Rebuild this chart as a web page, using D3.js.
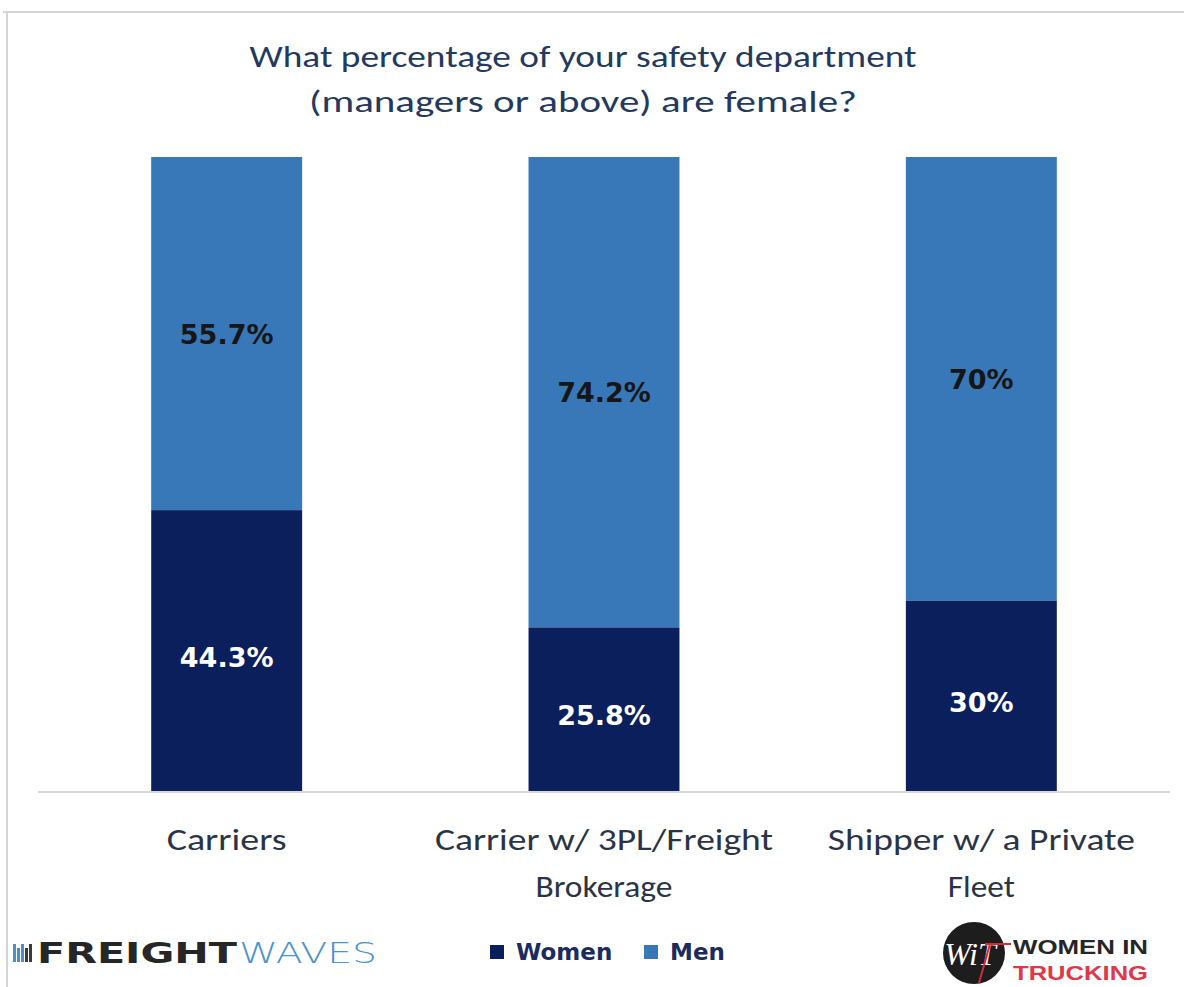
<!DOCTYPE html>
<html>
<head>
<meta charset="utf-8">
<script src="https://cdn.jsdelivr.net/npm/d3@7"></script>
<style>
html,body{margin:0;padding:0;background:#fff;}
svg{display:block;}
</style>
</head>
<body>
<script>
const categories = [["Carriers"], ["Carrier w/ 3PL/Freight", "Brokerage"], ["Shipper w/ a Private", "Fleet"]];
const women = [44.3, 25.8, 30];
const men = [55.7, 74.2, 70];
const womenLabels = ["44.3%", "25.8%", "30%"];
const menLabels = ["55.7%", "74.2%", "70%"];
const seriesNames = ["Women", "Men"];
const titleLines = ["What percentage of your safety department", "(managers or above) are female?"];

const W = 1184, H = 987;
const colWomen = "#0b1f5d", colMen = "#3877b8";
const narrow = "Carlito, 'Liberation Sans Narrow', 'Noto Sans', sans-serif";
const bold = "'DejaVu Sans', Verdana, sans-serif";

const svg = d3.select("body").append("svg").attr("width", W).attr("height", H);
svg.append("rect").attr("width", W).attr("height", H).attr("fill", "#fff");

// frame lines
svg.append("line").attr("x1", 3).attr("x2", W).attr("y1", 12).attr("y2", 12).attr("stroke", "#d4d4d4").attr("stroke-width", 2);
svg.append("line").attr("x1", 7).attr("x2", 7).attr("y1", 12).attr("y2", H).attr("stroke", "#d4d4d4").attr("stroke-width", 2);

function fitText(sel, len) {
  sel.each(function(){
    const w = this.getComputedTextLength();
    if (Math.abs(w - len) > 2) d3.select(this).attr("textLength", len).attr("lengthAdjust", "spacingAndGlyphs");
  });
}
// title
const titleW = [667, 548];
titleLines.forEach((t, i) => {
  svg.append("text").attr("x", 583).attr("y", 67 + i * 45)
    .attr("text-anchor", "middle").attr("font-family", narrow).attr("font-size", 30)
    .attr("fill", "#233a5e").text(t).call(fitText, titleW[i]);
});

const x = d3.scaleBand().domain(d3.range(categories.length)).range([38, 1170]).paddingInner(0.6).paddingOuter(0.3);
const y = d3.scaleLinear().domain([0, 100]).range([791, 157]);

const g = svg.append("g");
g.selectAll(".men").data(men).join("rect")
  .attr("x", (d, i) => x(i)).attr("width", x.bandwidth())
  .attr("y", (d, i) => y(women[i] + d)).attr("height", (d, i) => y(women[i]) - y(women[i] + d))
  .attr("fill", colMen);
g.selectAll(".women").data(women).join("rect")
  .attr("x", (d, i) => x(i)).attr("width", x.bandwidth())
  .attr("y", d => y(d)).attr("height", d => y(0) - y(d))
  .attr("fill", colWomen);

// axis line
svg.append("line").attr("x1", 38).attr("x2", 1170).attr("y1", y(0) + 1).attr("y2", y(0) + 1).attr("stroke", "#d9d9d9").attr("stroke-width", 2);

// value labels
g.selectAll(".ml").data(men).join("text")
  .attr("x", (d, i) => x(i) + x.bandwidth() / 2)
  .attr("y", (d, i) => (y(women[i] + d) + y(women[i])) / 2 + 10)
  .attr("text-anchor", "middle").attr("font-family", bold).attr("font-weight", "bold").attr("font-size", 27)
  .attr("fill", "#161616").text((d, i) => menLabels[i]);
g.selectAll(".wl").data(women).join("text")
  .attr("x", (d, i) => x(i) + x.bandwidth() / 2)
  .attr("y", d => (y(d) + y(0)) / 2 + 16)
  .attr("text-anchor", "middle").attr("font-family", bold).attr("font-weight", "bold").attr("font-size", 27)
  .attr("fill", "#ffffff").text((d, i) => womenLabels[i]);

// category labels
const catW = {"Carriers": 120, "Carrier w/ 3PL/Freight": 338, "Brokerage": 137, "Shipper w/ a Private": 307, "Fleet": 67};
categories.forEach((lines, i) => {
  lines.forEach((t, j) => {
    svg.append("text").attr("x", x(i) + x.bandwidth() / 2).attr("y", 850 + j * 47)
      .attr("text-anchor", "middle").attr("font-family", narrow).attr("font-size", 30)
      .attr("fill", "#2b3445").text(t).call(fitText, catW[t]);
  });
});

// legend
const legX = [490, 644];
const legColors = [colWomen, colMen];
seriesNames.forEach((n, i) => {
  svg.append("rect").attr("x", legX[i]).attr("y", 945).attr("width", 14).attr("height", 14).attr("fill", legColors[i]);
  svg.append("text").attr("x", legX[i] + 26).attr("y", 960).attr("font-family", bold).attr("font-weight", "bold")
    .attr("font-size", 23).attr("fill", "#1c2a5c").text(n);
});

// FreightWaves logo
const fw = svg.append("g");
[0,1,2,3,4].forEach(k => {
  fw.append("rect").attr("x", 13 + k * 4).attr("y", 944 + (k % 2 ? 4 : 0)).attr("width", 3).attr("height", 18 - (k % 2 ? 4 : 0))
    .attr("fill", k < 3 ? "#4b8ec8" : "#3a3a3a");
});
fw.append("text").attr("x", 37).attr("y", 963).attr("font-family", "'DejaVu Sans', Arial, sans-serif").attr("font-weight", "bold")
  .attr("font-size", 28).attr("fill", "#262626").text("FREIGHT").call(fitText, 200);
fw.append("text").attr("x", 239).attr("y", 963).attr("font-family", "'DejaVu Sans', Arial, sans-serif").attr("font-weight", 300)
  .attr("font-size", 28).attr("fill", "#4a93d0").text("WAVES").call(fitText, 138);

// Women In Trucking logo
const wit = svg.append("g");
wit.append("circle").attr("cx", 974).attr("cy", 953).attr("r", 31).attr("fill", "#1d1d1d");
wit.append("text").attr("x", 970).attr("y", 965).attr("text-anchor", "middle").attr("font-family", "serif").attr("font-style", "italic")
  .attr("font-size", 32).attr("fill", "#ffffff").text("WiT");
wit.append("line").attr("x1", 985).attr("x2", 1011).attr("y1", 944).attr("y2", 944).attr("stroke", "#d8283a").attr("stroke-width", 2);
wit.append("line").attr("x1", 990).attr("x2", 979).attr("y1", 944).attr("y2", 983).attr("stroke", "#d8283a").attr("stroke-width", 2);
wit.append("text").attr("x", 1013).attr("y", 954).attr("font-family", "'Liberation Sans', Arial, sans-serif").attr("font-weight", "bold")
  .attr("font-size", 21).attr("fill", "#262626").text("WOMEN IN").call(fitText, 135);
wit.append("text").attr("x", 1013).attr("y", 980).attr("font-family", "'Liberation Sans', Arial, sans-serif").attr("font-weight", "bold")
  .attr("font-size", 21).attr("fill", "#e0384a").text("TRUCKING").call(fitText, 135);
</script>
</body>
</html>
